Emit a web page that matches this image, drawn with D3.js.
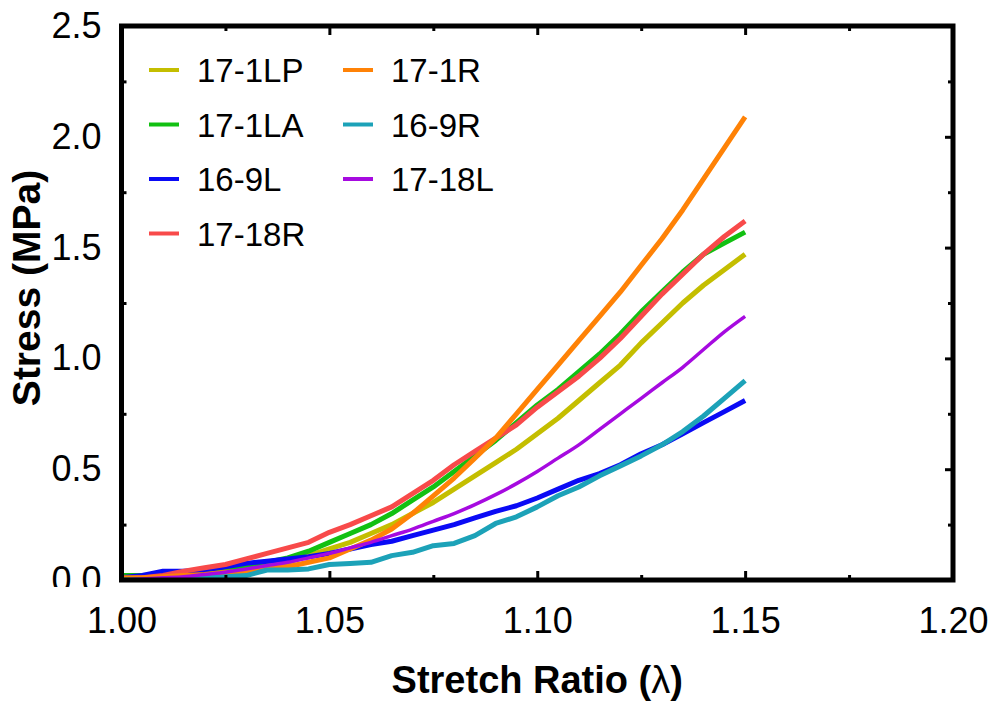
<!DOCTYPE html>
<html>
<head>
<meta charset="utf-8">
<script src="https://cdn.jsdelivr.net/npm/d3@7/dist/d3.min.js"></script>
<style>
  html, body { margin: 0; padding: 0; background: #fff; }
  svg { display: block; font-family: "Liberation Sans", Arial, sans-serif; }
</style>
</head>
<body>
<svg id="chart" width="996" height="705"></svg>
<script>
// ---------------- data ----------------
const lambda = [1.000,1.005,1.010,1.015,1.020,1.025,1.030,1.035,1.040,1.045,1.050,1.055,1.060,1.065,1.070,1.075,1.080,1.085,1.090,1.095,1.100,1.105,1.110,1.115,1.120,1.125,1.130,1.135,1.140,1.145,1.150];

const s17_1LP = [0.005,0.005,0.01,0.01,0.02,0.03,0.045,0.06,0.08,0.11,0.14,0.17,0.21,0.25,0.30,0.35,0.41,0.47,0.53,0.59,0.66,0.73,0.81,0.89,0.97,1.07,1.16,1.25,1.33,1.40,1.47];
const s17_1LA = [0.02,0.02,0.025,0.03,0.04,0.05,0.06,0.08,0.10,0.13,0.17,0.21,0.25,0.30,0.36,0.42,0.49,0.56,0.63,0.71,0.79,0.86,0.94,1.02,1.11,1.21,1.30,1.39,1.47,1.52,1.57];
const s16_9L  = [0.01,0.02,0.04,0.04,0.045,0.06,0.075,0.085,0.095,0.105,0.12,0.14,0.16,0.175,0.20,0.225,0.25,0.28,0.31,0.335,0.37,0.41,0.45,0.48,0.52,0.57,0.61,0.66,0.71,0.76,0.81];
const s17_18R = [0.005,0.01,0.02,0.04,0.055,0.07,0.095,0.12,0.145,0.17,0.215,0.25,0.29,0.33,0.39,0.45,0.52,0.58,0.64,0.70,0.78,0.85,0.92,1.00,1.09,1.19,1.29,1.38,1.47,1.55,1.62];
const s17_1R  = [0.01,0.01,0.015,0.02,0.025,0.035,0.04,0.05,0.06,0.08,0.10,0.14,0.18,0.23,0.30,0.38,0.46,0.55,0.64,0.75,0.86,0.97,1.08,1.19,1.30,1.42,1.54,1.67,1.81,1.95,2.09];
const s16_9R  = [0.0,0.0,0.0,0.005,0.01,0.015,0.02,0.045,0.045,0.05,0.07,0.075,0.08,0.11,0.125,0.155,0.165,0.20,0.255,0.285,0.33,0.38,0.42,0.47,0.515,0.56,0.61,0.67,0.74,0.82,0.90];
const s17_18L = [0.0,0.005,0.01,0.015,0.025,0.035,0.05,0.065,0.08,0.10,0.12,0.145,0.17,0.20,0.23,0.265,0.30,0.34,0.385,0.435,0.49,0.55,0.61,0.68,0.75,0.82,0.89,0.96,1.04,1.12,1.19];

const seriesNames  = ["17-1LP","17-1LA","16-9L","17-18R","17-1R","16-9R","17-18L"];
const seriesValues = [s17_1LP, s17_1LA, s16_9L, s17_18R, s17_1R, s16_9R, s17_18L];
const seriesColors = ["#c4be00","#12c012","#0a0af5","#f84a4a","#ff8206","#1ca2b8","#a60ae0"];

const xTicks = [1.00,1.05,1.10,1.15,1.20];
const xMinor = [1.025,1.075,1.125,1.175];
const yTicks = [0.0,0.5,1.0,1.5,2.0,2.5];
const yMinor = [0.25,0.75,1.25,1.75,2.25];

// ---------------- layout ----------------
const pL = 121.5, pR = 953, pT = 26, pB = 580;
const svg = d3.select("#chart");

const x = d3.scaleLinear().domain([1.0, 1.2]).range([pL, pR]);
const y = d3.scaleLinear().domain([0, 2.5]).range([pB, pT]);

svg.append("clipPath").attr("id","plotclip")
  .append("rect").attr("x", pL).attr("y", pT).attr("width", pR-pL).attr("height", pB-pT);
svg.append("clipPath").attr("id","ylabclip")
  .append("rect").attr("x", -200).attr("y", -50).attr("width", 200).attr("height", 637);

// ---------------- series ----------------
const lineLin = d3.line().x(d => x(d[0])).y(d => y(d[1])).curve(d3.curveLinear);
const lineSmooth = d3.line().x(d => x(d[0])).y(d => y(d[1])).curve(d3.curveMonotoneX);
const gLines = svg.append("g").attr("clip-path","url(#plotclip)");
seriesValues.forEach((vals, i) => {
  const pts = lambda.map((l, j) => [l, vals[j]]);
  const smooth = seriesNames[i] === "17-18L";
  gLines.append("path")
    .datum(pts)
    .attr("d", smooth ? lineSmooth : lineLin)
    .attr("fill", "none")
    .attr("stroke", seriesColors[i])
    .attr("stroke-width", smooth ? 3.5 : 5)
    .attr("stroke-linejoin", "round");
});

// ---------------- axes ----------------
function styleAxis(g) {
  g.select(".domain").remove();
  g.selectAll(".tick line").attr("stroke", "#000").attr("stroke-width", 3);
  g.selectAll("text").attr("font-size", 36).attr("fill", "#000")
    .attr("font-family", '"Liberation Sans", Arial, sans-serif');
}
const fmtX = d3.format(".2f"), fmtY = d3.format(".1f");

svg.append("g").attr("transform", `translate(0,${pB})`)
  .call(d3.axisBottom(x).tickValues(xTicks).tickSize(-9).tickPadding(27).tickFormat(fmtX))
  .call(styleAxis);
svg.append("g").attr("transform", `translate(0,${pB})`)
  .call(d3.axisBottom(x).tickValues(xMinor).tickSize(-5).tickFormat(""))
  .call(styleAxis);
svg.append("g").attr("transform", `translate(0,${pT})`)
  .call(d3.axisTop(x).tickValues(xTicks).tickSize(-9).tickFormat(""))
  .call(styleAxis);
svg.append("g").attr("transform", `translate(0,${pT})`)
  .call(d3.axisTop(x).tickValues(xMinor).tickSize(-5).tickFormat(""))
  .call(styleAxis);

const yAxisG = svg.append("g").attr("transform", `translate(${pL},0)`);
yAxisG.append("g").attr("clip-path","url(#ylabclip)")
  .call(d3.axisLeft(y).tickValues(yTicks).tickSize(-8).tickPadding(20).tickFormat(fmtY))
  .call(styleAxis);
svg.append("g").attr("transform", `translate(${pL},0)`)
  .call(d3.axisLeft(y).tickValues(yMinor).tickSize(-5).tickFormat(""))
  .call(styleAxis);
svg.append("g").attr("transform", `translate(${pR},0)`)
  .call(d3.axisRight(y).tickValues(yTicks).tickSize(-8).tickFormat(""))
  .call(styleAxis);
svg.append("g").attr("transform", `translate(${pR},0)`)
  .call(d3.axisRight(y).tickValues(yMinor).tickSize(-5).tickFormat(""))
  .call(styleAxis);

// frame
svg.append("rect")
  .attr("x", pL).attr("y", pT).attr("width", pR-pL).attr("height", pB-pT)
  .attr("fill", "none").attr("stroke", "#000").attr("stroke-width", 5);

// axis titles
const xTitle = svg.append("text")
  .attr("x", (pL+pR)/2).attr("y", 693)
  .attr("text-anchor", "middle").attr("font-size", 38).attr("font-weight", "bold");
xTitle.append("tspan").text("Stretch Ratio (");
xTitle.append("tspan").attr("font-weight", "normal").text("λ");
xTitle.append("tspan").text(")");
svg.append("text")
  .attr("transform", "translate(40,288) rotate(-90)")
  .attr("text-anchor", "middle").attr("font-size", 39).attr("font-weight", "bold")
  .text("Stress (MPa)");

// ---------------- legend ----------------
const legCols = [{lx: 149, tx: 197}, {lx: 343, tx: 391}];
const rowY0 = 70, rowStep = 54.5;
const perCol = 4;
seriesNames.forEach((name, i) => {
  const c = Math.floor(i / perCol), r = i % perCol;
  const cy = rowY0 + r * rowStep;
  const g = svg.append("g");
  g.append("line")
    .attr("x1", legCols[c].lx).attr("x2", legCols[c].lx + 30)
    .attr("y1", cy).attr("y2", cy)
    .attr("stroke", seriesColors[i]).attr("stroke-width", 4);
  g.append("text")
    .attr("x", legCols[c].tx).attr("y", cy + 12)
    .attr("font-size", 33).attr("fill", "#000")
    .text(name);
});
</script>
</body>
</html>
